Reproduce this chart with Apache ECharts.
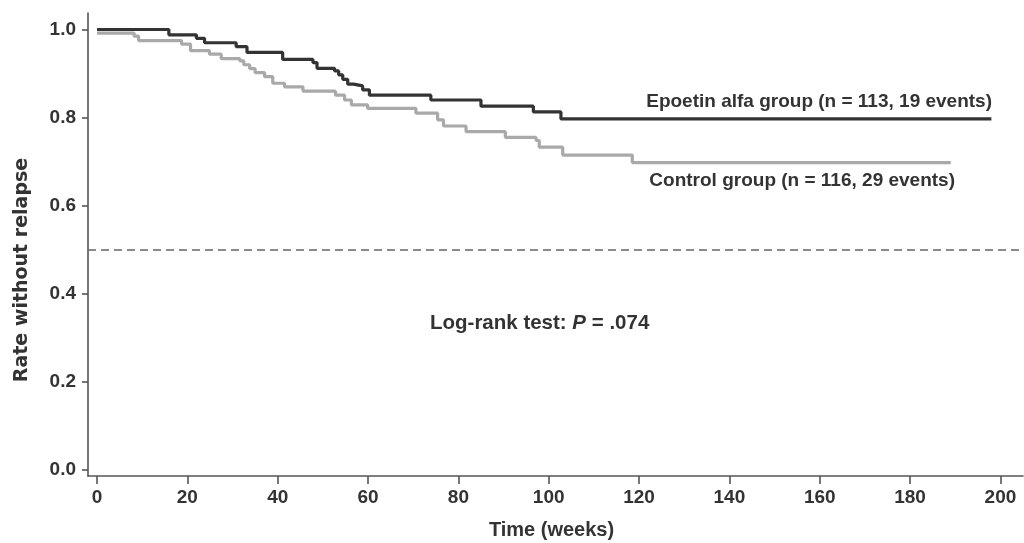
<!DOCTYPE html>
<html><head><meta charset="utf-8">
<script src="https://cdn.jsdelivr.net/npm/echarts@6/dist/echarts.min.js"></script>
<style>html,body{margin:0;padding:0;background:#fff}#c{width:1024px;height:543px}</style>
</head><body><div id="c"></div>
<script>
// Kaplan-Meier step data
const epoTime = [0, 15.9, 22.0, 23.8, 30.8, 33.2, 41.1, 47.8, 48.7, 52.6, 53.5, 54.4, 55.5, 56.8, 58.8, 60.3, 73.9, 85.0, 96.6, 102.7, 198];
const epoSurv = [1.0, 0.988, 0.980, 0.970, 0.961, 0.948, 0.932, 0.925, 0.912, 0.906, 0.897, 0.887, 0.876, 0.872, 0.863, 0.851, 0.840, 0.826, 0.813, 0.797, 0.797];
const ctrlTime = [0, 8.2, 9.2, 18.7, 20.7, 24.9, 27.5, 31.6, 32.5, 33.8, 35.0, 37.1, 38.9, 41.5, 45.6, 52.8, 54.8, 56.3, 59.9, 70.6, 75.4, 76.7, 81.7, 90.4, 97.2, 97.9, 103.1, 118.5, 189];
const ctrlSurv = [0.992, 0.985, 0.975, 0.967, 0.952, 0.944, 0.934, 0.929, 0.920, 0.911, 0.902, 0.893, 0.878, 0.870, 0.860, 0.851, 0.840, 0.829, 0.821, 0.810, 0.795, 0.781, 0.768, 0.755, 0.748, 0.733, 0.715, 0.698, 0.698];
const xTicks = [0, 20, 40, 60, 80, 100, 120, 140, 160, 180, 200];
const yTicks = [0, 0.2, 0.4, 0.6, 0.8, 1.0];
const refLine = 0.5;
const epoLabel = 'Epoetin alfa group (n = 113, 19 events)';
const ctrlLabel = 'Control group (n = 116, 29 events)';
const xTitle = 'Time (weeks)';
const yTitle = 'Rate without relapse';

const zip = (a, b) => a.map((v, i) => [v, b[i]]);
const txt = '#333';
const font = '"Liberation Sans", Arial, sans-serif';

const chart = echarts.init(document.getElementById('c'), null, {renderer: 'canvas'});
chart.setOption({
  animation: false,
  backgroundColor: '#fff',
  grid: {left: 88, right: 1, top: 13, bottom: 67, outerBoundsMode: 'none', containLabel: false},
  xAxis: {
    type: 'value', min: -2, max: 205,
    name: xTitle, nameLocation: 'middle', nameGap: 44,
    nameTextStyle: {fontFamily: font, fontWeight: 'bold', fontSize: 20, color: txt, padding: [0, 8, 0, 0]},
    axisLine: {onZero: false, lineStyle: {color: '#555', width: 1.6}},
    axisTick: {show: true, length: 8, customValues: xTicks, lineStyle: {color: '#555', width: 1.6}},
    axisLabel: {customValues: xTicks, margin: 12, fontFamily: font, fontWeight: 'bold', fontSize: 19, color: txt},
    splitLine: {show: false}
  },
  yAxis: {
    type: 'value', min: -0.0136, max: 1.0375,
    axisLine: {onZero: false, lineStyle: {color: '#555', width: 1.6}},
    axisTick: {show: true, length: 6, customValues: yTicks, lineStyle: {color: '#555', width: 1.6}},
    axisLabel: {customValues: yTicks, margin: 12, formatter: v => v.toFixed(1), fontFamily: font, fontWeight: 'bold', fontSize: 19, color: txt},
    splitLine: {show: false}
  },
  graphic: [
    {type: 'text', x: 22, y: 270, rotation: Math.PI / 2,
     style: {text: yTitle, align: 'center', verticalAlign: 'middle', font: 'bold 19px "DejaVu Sans", sans-serif', fill: txt}},
    {type: 'text', x: 992, y: 102,
     style: {text: epoLabel, align: 'right', verticalAlign: 'middle', font: 'bold 19px "Liberation Sans", Arial, sans-serif', fill: txt}},
    {type: 'text', x: 955, y: 181,
     style: {text: ctrlLabel, align: 'right', verticalAlign: 'middle', font: 'bold 19px "Liberation Sans", Arial, sans-serif', fill: txt}},
    {type: 'text', x: 430, y: 323,
     style: {
       text: '{a|Log-rank test: }{p|P}{a| = .074}', align: 'left', verticalAlign: 'middle',
       rich: {
         a: {font: 'bold 20.5px "Liberation Sans", Arial, sans-serif', fill: txt},
         p: {font: 'italic bold 20.5px "Liberation Sans", Arial, sans-serif', fill: txt}
       }
     }}
  ],
  series: [
    {
      type: 'line', step: 'end', showSymbol: false, symbol: 'none', silent: true,
      data: zip(ctrlTime, ctrlSurv), z: 2,
      lineStyle: {color: '#a9a9a9', width: 3.2},
      markLine: {
        silent: true, symbol: 'none', label: {show: false},
        lineStyle: {type: [8, 5], color: '#666', width: 1.5},
        data: [{yAxis: refLine}]
      }
    },
    {
      type: 'line', step: 'end', showSymbol: false, symbol: 'none', silent: true,
      data: zip(epoTime, epoSurv), z: 3,
      lineStyle: {color: '#333', width: 3.2}
    }
  ]
});
</script>
</body></html>
